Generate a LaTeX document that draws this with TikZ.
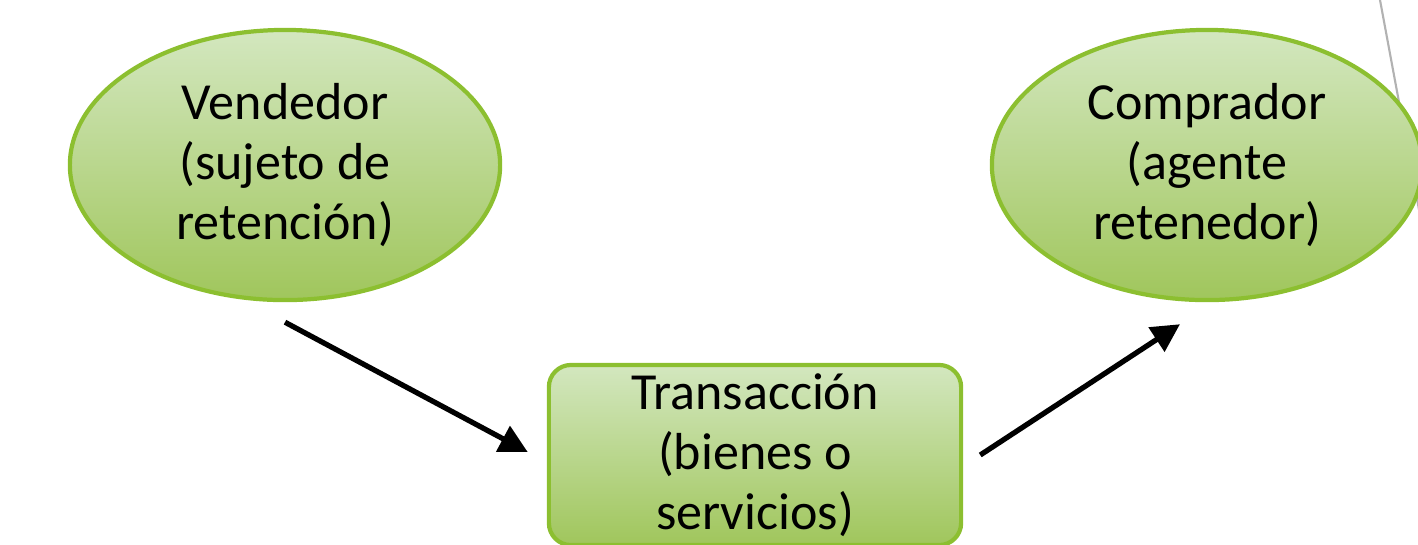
\documentclass[tikz,border=0pt]{standalone}
\usepackage{fontspec}
\setmainfont{Carlito}
\usetikzlibrary{shapes.geometric,arrows.meta}
\definecolor{gtop}{HTML}{D3E7BF}
\definecolor{gbot}{HTML}{A0C65C}
\definecolor{gedge}{HTML}{8CBF30}
\tikzset{
  lbl/.style={align=center,font=\fontsize{14.8}{17}\selectfont,text=black},
  oval/.style={ellipse,draw=gedge,line width=1.2pt,top color=gtop,bottom color=gbot,
    minimum width=4.3cm,minimum height=2.7cm,inner sep=0pt,lbl},
  tbox/.style={rectangle,rounded corners=0.22cm,draw=gedge,line width=1.2pt,top color=gtop,bottom color=gbot,
    minimum width=4.12cm,minimum height=1.8cm,inner sep=0pt,lbl},
  flow/.style={line width=1.5pt,black,-{Triangle[length=8pt,width=8pt]}},
  deco/.style={draw=black!30,line width=0.6pt}
}
\begin{document}
\begin{tikzpicture}[x=0.01cm,y=-0.01cm]
\useasboundingbox (0,0) rectangle (1418,544);
\coordinate (g1) at (1380,0);
\coordinate (g2) at (1420,215);
\draw[deco] (g1) -- (g2);
\node[oval] (v) at (285,165) {Vendedor\\(sujeto de\\retención)};
\node[oval] (c) at (1207,165) {Comprador\\(agente\\retenedor)};
\node[tbox] (t) at (755,455) {Transacción\\(bienes o\\servicios)};
\coordinate (a1) at ([yshift=-0.2cm]v.south);
\coordinate (a2) at ([xshift=-0.19cm,yshift=0.03cm]t.west);
\coordinate (b1) at ([xshift=0.17cm]t.east);
\coordinate (b2) at ([xshift=-0.27cm,yshift=-0.22cm]c.south);
\draw[flow] (a1) -- (a2);
\draw[flow] (b1) -- (b2);
\end{tikzpicture}
\end{document}
